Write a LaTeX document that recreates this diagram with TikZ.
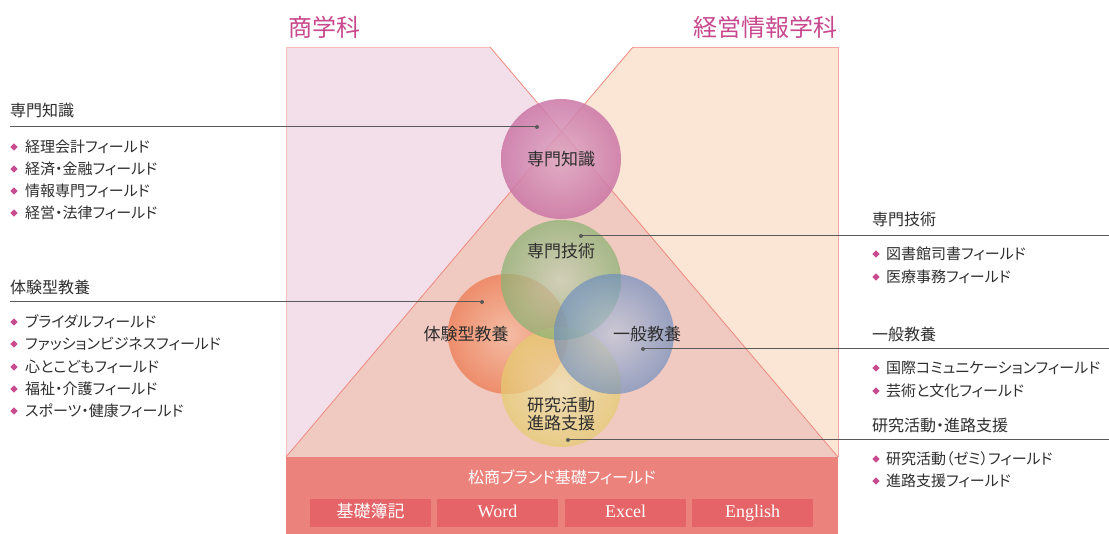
\documentclass[tikz,border=0pt]{standalone}
\usepackage{fontspec}
\setmainfont{Noto Sans CJK JP}
\newfontfamily\jpp[RawFeature=+palt]{Noto Sans CJK JP}
\newfontfamily\serifw{Liberation Serif}
\usetikzlibrary{shapes.geometric}
\definecolor{lbg}{HTML}{F2DFE9}
\definecolor{rbg}{HTML}{FBE5D5}
\definecolor{mbg}{HTML}{F0C9C1}
\definecolor{edgec}{HTML}{EF8A80}
\definecolor{ttlc}{HTML}{C8488E}
\definecolor{dia}{HTML}{C94B8F}
\definecolor{txt}{HTML}{2E2E2E}
\definecolor{leadc}{HTML}{5A5A5A}
\definecolor{barc}{HTML}{EC827C}
\definecolor{barbox}{HTML}{E46468}
\definecolor{pkin}{HTML}{DEA8C4}
\definecolor{pkout}{HTML}{CB76A6}
\definecolor{gin}{HTML}{C7D1B4}
\definecolor{gout}{HTML}{8AB272}
\definecolor{oin}{HTML}{F6B799}
\definecolor{oout}{HTML}{ED774B}
\definecolor{bin}{HTML}{BCC8DE}
\definecolor{bout}{HTML}{6A8CC0}
\definecolor{yin}{HTML}{F0E5B4}
\definecolor{yout}{HTML}{E5CC6F}
\tikzset{
  ttl/.style={text=ttlc, font=\fontsize{24}{28}\selectfont, inner sep=0},
  head/.style={anchor=west, text=txt, font=\jpp\fontsize{16}{19}\selectfont, inner sep=0},
  item/.style={anchor=west, text=txt, font=\jpp\fontsize{15}{18}\selectfont, inner sep=0},
  bullet/.style={diamond, fill=dia, minimum width=7.5, minimum height=7.5, inner sep=0},
  leadline/.style={draw=leadc, line width=1},
  dot/.style={circle, fill=leadc, minimum size=4, inner sep=0},
  ball/.style={circle, minimum size=120, inner sep=0},
  grp/.style={transparency group, opacity=0.72},
  pgrp/.style={transparency group, opacity=0.85},
  balltext/.style={text=txt, font=\fontsize{17}{18.5}\selectfont, inner sep=0, align=center},
  cell/.style={fill=barbox, minimum width=121, minimum height=28, inner sep=0, text height=12.5, text depth=3.5, text=white, font=\fontsize{17}{20}\selectfont},
}
\begin{document}
\begin{tikzpicture}[x=1pt,y=-1pt]
\useasboundingbox (0,0) rectangle (1109,534);
% background shapes
\coordinate (ltl) at (286,47); \coordinate (ltr) at (490,47);
\coordinate (rtl) at (633,47); \coordinate (rtr) at (838,47);
\coordinate (bl) at (286,457); \coordinate (br) at (838,457);
\coordinate (apex) at (561.5,131);
\fill[lbg] (ltl) -- (ltr) -- (br) -- (bl) -- cycle;
\fill[rbg] (rtl) -- (rtr) -- (br) -- (bl) -- cycle;
\fill[mbg] (apex) -- (br) -- (bl) -- cycle;
\draw[edgec!55, line width=0.8] (bl) -- (ltl) -- (ltr);
\draw[edgec!75, line width=0.8] (rtl) -- (rtr) -- (br);
\draw[edgec, line width=0.8] (ltr) -- (br);
\draw[edgec, line width=0.8] (rtl) -- (bl);
% titles
\node[ttl, anchor=west] (t1) at (288,27) {商学科};
\node[ttl, anchor=east] (t2) at (838,27) {経営情報学科};
% bottom bar
\fill[barc] (286,457) rectangle (838,534);
\node[text=white, font=\jpp\fontsize{16}{19}\selectfont, inner sep=0] (brand) at (562,477) {松商ブランド基礎フィールド};
\node[cell] (c1) at (370.5,513) {基礎簿記};
\node[cell, font=\serifw\fontsize{18}{20}\selectfont] (c2) at (497.5,513) {Word};
\node[cell, font=\serifw\fontsize{18}{20}\selectfont] (c3) at (625.5,513) {Excel};
\node[cell, font=\serifw\fontsize{18}{20}\selectfont] (c4) at (752.5,513) {English};
% circles
\begin{scope}[pgrp]
\node[ball, inner color=pkin, outer color=pkout] (k) at (561,159) {};
\end{scope}
\begin{scope}[grp]
\node[ball, inner color=oin, outer color=oout] (o) at (508,334) {};
\end{scope}
\begin{scope}[grp]
\node[ball, inner color=yin, outer color=yout] (y) at (561,387) {};
\end{scope}
\begin{scope}[grp]
\node[ball, inner color=gin, outer color=gout] (g) at (561,280) {};
\end{scope}
\begin{scope}[grp, opacity=0.66]
\node[ball, inner color=bin, outer color=bout] (b) at (614,334) {};
\end{scope}
\node[balltext] (kt) at (561,159) {専門知識};
\node[balltext] (gt) at (561,251) {専門技術};
\node[balltext] (ot) at (466,334) {体験型教養};
\node[balltext] (bt) at (647,334) {一般教養};
\node[balltext] (yt) at (561,414) {研究活動\\進路支援};
% leader lines
\coordinate (lk0) at (10,127); \node[dot] (lk1) at (537,127) {};
\coordinate (lt0) at (10,302); \node[dot] (lt1) at (482,302) {};
\coordinate (rg0) at (1109,236); \node[dot] (rg1) at (581,236) {};
\coordinate (rb0) at (1109,349); \node[dot] (rb1) at (643,349) {};
\coordinate (ry0) at (1109,440); \node[dot] (ry1) at (568,440) {};
\draw[leadline] (lk0) -- (lk1.center);
\draw[leadline] (lt0) -- (lt1.center);
\draw[leadline] (rg0) -- (rg1.center);
\draw[leadline] (rb0) -- (rb1.center);
\draw[leadline] (ry0) -- (ry1.center);
% left lists
\node[head] (h1) at (10,110) {専門知識};
\foreach \t/\yy [count=\i] in {経理会計フィールド/147, 経済・金融フィールド/169, 情報専門フィールド/191, 経営・法律フィールド/213}{
  \node[bullet] (ab\i) at (14,\yy) {};
  \node[item] (a\i) at (25,\yy) {\t};
}
\node[head] (h2) at (10,287) {体験型教養};
\foreach \t/\yy [count=\i] in {ブライダルフィールド/322, ファッションビジネスフィールド/344, 心とこどもフィールド/367, 福祉・介護フィールド/389, スポーツ・健康フィールド/411}{
  \node[bullet] (bb\i) at (14,\yy) {};
  \node[item] (bi\i) at (25,\yy) {\t};
}
% right lists
\node[head] (h3) at (872,219) {専門技術};
\foreach \t/\yy [count=\i] in {図書館司書フィールド/254, 医療事務フィールド/277}{
  \node[bullet] (cb\i) at (876,\yy) {};
  \node[item] (ci\i) at (886,\yy) {\t};
}
\node[head] (h4) at (872,334) {一般教養};
\foreach \t/\yy [count=\i] in {国際コミュニケーションフィールド/368, 芸術と文化フィールド/391}{
  \node[bullet] (db\i) at (876,\yy) {};
  \node[item] (di\i) at (886,\yy) {\t};
}
\node[head] (h5) at (872,425) {研究活動・進路支援};
\foreach \t/\yy [count=\i] in {研究活動（ゼミ）フィールド/459, 進路支援フィールド/481}{
  \node[bullet] (eb\i) at (876,\yy) {};
  \node[item] (ei\i) at (886,\yy) {\t};
}
\end{tikzpicture}
\end{document}
